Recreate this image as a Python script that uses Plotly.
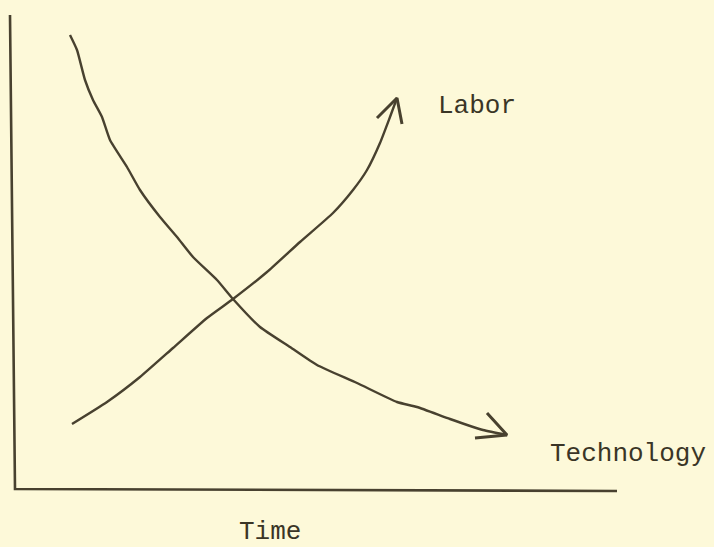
import plotly.graph_objects as go

# Curve data (chart units: origin at the axis corner, x = time, y = level)
labor_x = [60, 95, 128, 161, 195, 221, 255, 288, 321, 341, 355, 368, 378, 385]
labor_y = [65, 87, 112, 141, 171, 190, 217, 247, 276, 299, 319, 346, 372, 391]
labor_arrow_x = [365, 385, 390]
labor_arrow_y = [371, 391, 365]

tech_x = [58, 65, 73, 81, 90, 98, 115, 128, 148, 165, 181, 205, 221, 248, 278, 305, 345, 385, 405, 438, 471, 495]
tech_y = [454, 439, 409, 389, 372, 349, 322, 299, 272, 252, 232, 209, 190, 162, 142, 124, 106, 87, 82, 70, 59, 54]
tech_arrow_x = [475, 495, 463]
tech_arrow_y = [76, 54, 51]

axis_x = [-2, 3, 605]
axis_y = [474, 0, -2]

labels = ["Labor", "Technology", "Time"]
label_x = [424, 536, 225]
label_y = [383, 35, -43]

ink = "#48412f"
bg = "#fdf9d9"

fig = go.Figure()
fig.add_trace(go.Scatter(x=axis_x, y=axis_y, mode="lines",
                         line=dict(color=ink, width=2.6), hoverinfo="skip"))
fig.add_trace(go.Scatter(x=labor_x, y=labor_y, mode="lines",
                         line=dict(color=ink, width=2.4, shape="spline", smoothing=0.5)))
fig.add_trace(go.Scatter(x=labor_arrow_x, y=labor_arrow_y, mode="lines",
                         line=dict(color=ink, width=3)))
fig.add_trace(go.Scatter(x=tech_x, y=tech_y, mode="lines",
                         line=dict(color=ink, width=2.4, shape="spline", smoothing=0.5)))
fig.add_trace(go.Scatter(x=tech_arrow_x, y=tech_arrow_y, mode="lines",
                         line=dict(color=ink, width=3)))

for t, x, y in zip(labels, label_x, label_y):
    fig.add_annotation(x=x, y=y, text=t, showarrow=False, xanchor="left", yanchor="middle",
                       font=dict(family="Liberation Mono, Courier New, monospace", size=26, color="#3a3526"))

fig.update_layout(
    width=714, height=547,
    margin=dict(l=0, r=0, t=0, b=0),
    paper_bgcolor=bg, plot_bgcolor=bg,
    showlegend=False,
    xaxis=dict(range=[-12, 702], visible=False, fixedrange=True),
    yaxis=dict(range=[-58, 489], visible=False, fixedrange=True),
)
fig.write_html("out.html", config={"displayModeBar": False},
               post_script="document.body.style.margin='0';document.body.style.overflow='hidden';"
                           "document.body.style.background='" + bg + "';")
